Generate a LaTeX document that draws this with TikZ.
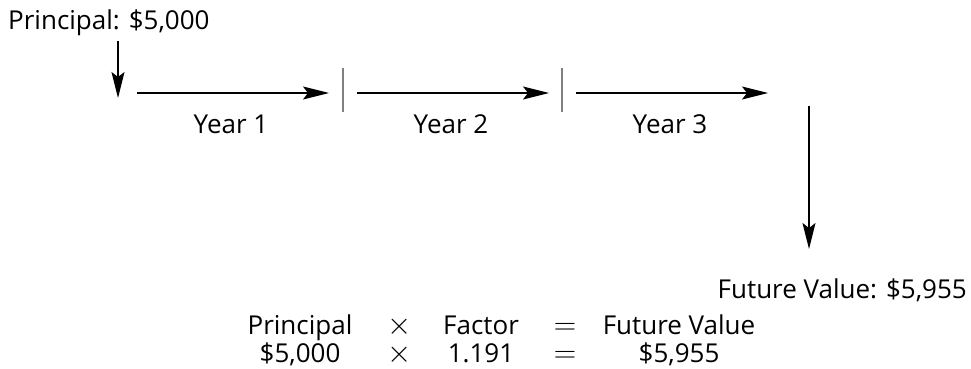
\documentclass[tikz,border=0pt]{standalone}
\usepackage{fontspec}
\setmainfont{Open Sans}
\usetikzlibrary{arrows.meta, positioning}

\newcommand{\bigop}[1]{\scalebox{1.25}{$#1$}}

\begin{document}
\begin{tikzpicture}[
    x=1pt, y=-1pt,
    every node/.style={font=\fontsize{26}{30}\selectfont, inner sep=0pt},
    flow/.style={draw, line width=1.4pt, -{Stealth[length=26pt, width=13pt, inset=5pt]}},
    tick/.style={draw=gray, line width=1.5pt}
  ]
  \useasboundingbox (0,0) rectangle (971,369);

  % amount at the start and at the end
  \node[anchor=base west] (principal) at (8,30) {Principal: \$5,000};
  \node[anchor=base east] (future) at (967,298) {Future Value: \$5,955};

  % the three years
  \foreach \i/\x in {1/137, 2/357, 3/576} {
    \coordinate (s\i) at (\x,93);
    \coordinate (e\i) at (\x+192,93);
    \draw[flow] (s\i) -- (e\i);
    \node[anchor=base] (year\i) at (\x+94,133) {Year \i};
  }
  \foreach \x in {343, 562}
    \draw[tick] (\x,68) -- (\x,112);

  % money goes in, money comes out
  \coordinate (start) at (118,98);
  \draw[flow] ([yshift=-5pt]principal.south -| start) -- (start);
  \coordinate (drop) at (809,106);
  \coordinate (land) at (809,249);
  \draw[flow] (drop) -- (land);

  % formula
  \node[anchor=base] (hp) at (300,334) {Principal};
  \node[anchor=base] (hx) at (400,334) {\bigop{\times}};
  \node[anchor=base] (hf) at (481,334) {Factor};
  \node[anchor=base] (he) at (565,334) {\bigop{=}};
  \node[anchor=base] (hv) at (679,334) {Future Value};
  \node[anchor=base] (vp) at (300,362) {\$5,000};
  \node[anchor=base] (vx) at (400,362) {\bigop{\times}};
  \node[anchor=base] (vf) at (481,362) {1.191};
  \node[anchor=base] (ve) at (565,362) {\bigop{=}};
  \node[anchor=base] (vv) at (679,362) {\$5,955};
\end{tikzpicture}
\end{document}
